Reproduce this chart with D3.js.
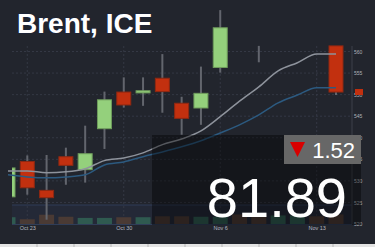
<!DOCTYPE html>
<html>
<head>
<meta charset="utf-8">
<script src="https://cdn.jsdelivr.net/npm/d3@7"></script>
<style>
  html, body { margin: 0; padding: 0; background: #22252d; }
  svg { display: block; font-family: "Liberation Sans", Arial, sans-serif; }
</style>
</head>
<body>
<div id="chart"></div>
<script>
// trading days shown on the chart
const days = ["Oct 22", "Oct 23", "Oct 24", "Oct 25", "Oct 26", "Oct 29", "Oct 30", "Oct 31",
  "Nov 1", "Nov 2", "Nov 5", "Nov 6", "Nov 7", "Nov 8", "Nov 9", "Nov 12", "Nov 13", "Nov 14"];
const tickDays = ["Oct 23", "Oct 30", "Nov 6", "Nov 13"];

// OHLC (null = no candle drawn)
const open  = [526.3, 534.5, 527.8, 535.6, 532.6, 542.1, 550.6, 550.4, 553.8, 548.0, 546.9, 556.3, null, 559.4, null, null, null, 561.3];
const high  = [533.0, 535.9, 536.0, 537.7, 542.8, 550.7, 554.0, 554.0, 559.4, 549.5, 556.5, 569.6, null, 561.3, null, null, null, 561.3];
const low   = [526.3, 526.8, 521.0, 529.1, 529.6, 537.4, 547.0, 547.4, 545.8, 540.7, 543.0, 555.1, null, 557.5, null, null, null, 549.9];
const close = [533.0, 528.4, 526.1, 533.6, 536.3, 548.8, 547.6, 550.9, 550.7, 544.5, 550.3, 565.5, null, 559.4, null, null, null, 550.6];

// moving averages
const maFast = [532.3, 532.3, 531.9, 532.1, 532.8, 534.7, 535.3, 536.5, 538.4, 539.7, 541.6, 544.9, 548.5, 551.8, 555.5, 557.4, 559.4, 559.4];
const maSlow = [531.4, 530.9, 530.7, 530.9, 531.4, 533.7, 534.4, 535.6, 536.7, 537.9, 539.3, 541.1, 543.0, 545.3, 548.1, 549.9, 551.6, 551.6];

// volume
const volume = [150, 105, 205, 160, 135, 135, 150, 150, 170, 170, 160, 160, 210, 210, 190, 190, 170, 210];
const volUp  = [true, false, false, false, true, true, false, true, false, false, true, true, false, false, true, true, false, false];

const priceTicks = [520, 525, 530, 535, 540, 545, 550, 555, 560];
const lastPrice = "81.89";
const change = "1.52";

const W = 375, H = 247;
const plot = { left: 12, right: 352, top: 46, bottom: 224 };

const svg = d3.select("#chart").append("svg")
  .attr("width", W)
  .attr("height", H);

svg.append("rect").attr("width", W).attr("height", H).attr("fill", "#22252d");

const x = d3.scaleLinear().domain([0, days.length - 1]).range([8, 336]);
const y = d3.scaleLinear().domain([520, 560]).range([224, 51.5]);
const yVol = d3.scaleLinear().domain([0, 420]).range([224, 205]);

svg.append("clipPath").attr("id", "plotClip")
  .append("rect")
  .attr("x", plot.left).attr("y", 0)
  .attr("width", plot.right - plot.left).attr("height", plot.bottom);

// volume pane tint
svg.append("rect")
  .attr("x", plot.left).attr("y", yVol(420))
  .attr("width", plot.right - plot.left).attr("height", plot.bottom - yVol(420))
  .attr("fill", "#27304a").attr("opacity", 0.35);
svg.append("line")
  .attr("x1", plot.left).attr("x2", plot.right)
  .attr("y1", yVol(420)).attr("y2", yVol(420))
  .attr("stroke", "#2f3d58").attr("stroke-width", 1);

// grid
const grid = svg.append("g");
grid.selectAll("line.h")
  .data(priceTicks.filter(d => d > 520))
  .join("line")
  .attr("x1", plot.left).attr("x2", plot.right)
  .attr("y1", d => y(d)).attr("y2", d => y(d))
  .attr("stroke", "#343844").attr("stroke-dasharray", "2,2");
grid.selectAll("line.v")
  .data(tickDays)
  .join("line")
  .attr("x1", d => x(days.indexOf(d))).attr("x2", d => x(days.indexOf(d)))
  .attr("y1", plot.top).attr("y2", plot.bottom)
  .attr("stroke", "#343844").attr("stroke-dasharray", "2,2");

const g = svg.append("g").attr("clip-path", "url(#plotClip)");
const bw = 15;

// volume bars
g.selectAll("rect.vol")
  .data(volume)
  .join("rect")
  .attr("x", (d, i) => x(i) - bw / 2)
  .attr("y", d => yVol(d))
  .attr("width", bw)
  .attr("height", d => yVol(0) - yVol(d))
  .attr("fill", (d, i) => volUp[i] ? "#2f5a50" : "#4a3a34");

const idx = d3.range(days.length).filter(i => open[i] !== null);

// wicks
g.selectAll("line.wick")
  .data(idx)
  .join("line")
  .attr("x1", i => x(i)).attr("x2", i => x(i))
  .attr("y1", i => y(high[i])).attr("y2", i => y(low[i]))
  .attr("stroke", "#62656d").attr("stroke-width", 2);

// bodies
g.selectAll("rect.body")
  .data(idx.filter(i => open[i] !== close[i]))
  .join("rect")
  .attr("x", i => x(i) - bw / 2 + 0.5)
  .attr("y", i => y(Math.max(open[i], close[i])))
  .attr("width", bw - 1)
  .attr("height", i => Math.max(1.5, Math.abs(y(open[i]) - y(close[i]))))
  .attr("fill", i => close[i] > open[i] ? "#94d07c" : "#c2300f")
  .attr("stroke", i => close[i] > open[i] ? "#6f9c5c" : "#8e2812")
  .attr("stroke-width", 1);

// moving averages
const line = d3.line().x((d, i) => x(i)).y(d => y(d)).curve(d3.curveMonotoneX);
svg.append("path").datum(maSlow)
  .attr("d", line).attr("fill", "none")
  .attr("stroke", "#2c5a80").attr("stroke-width", 1.5);
svg.append("path").datum(maFast)
  .attr("d", line).attr("fill", "none")
  .attr("stroke", "#8e939c").attr("stroke-width", 1.5);

// right axis
svg.append("line")
  .attr("x1", plot.right).attr("x2", plot.right)
  .attr("y1", plot.top).attr("y2", plot.bottom)
  .attr("stroke", "#3c404a");
const yAxis = svg.append("g")
  .attr("transform", `translate(${plot.right},0)`)
  .call(d3.axisRight(y).tickValues(priceTicks).tickSize(0).tickPadding(2));
yAxis.select(".domain").remove();
yAxis.selectAll("text").attr("fill", "#aeb2ba").style("font-size", "5px");

// last price tag
svg.append("rect")
  .attr("x", plot.right + 3).attr("y", y(close[close.length - 1]) - 3)
  .attr("width", 8).attr("height", 6)
  .attr("fill", "#c2300f");

// bottom axis
const xAxis = svg.append("g")
  .attr("transform", `translate(0,${plot.bottom})`)
  .call(d3.axisBottom(x)
    .tickValues(tickDays.map(d => days.indexOf(d)))
    .tickFormat(i => days[i])
    .tickSize(0).tickPadding(2));
xAxis.select(".domain")
  .attr("d", `M${plot.left},0.5H${plot.right}`)
  .attr("stroke", "#2f3d58");
xAxis.selectAll("text").attr("fill", "#b4b8c0").style("font-size", "5.5px");

// dark overlay box
svg.append("rect")
  .attr("x", 152).attr("y", 135)
  .attr("width", 209).attr("height", 90)
  .attr("fill", "#000").attr("opacity", 0.4);

// change badge
svg.append("rect")
  .attr("x", 284).attr("y", 135)
  .attr("width", 77).attr("height", 29)
  .attr("fill", "#676767");
svg.append("path")
  .attr("d", "M290,142L305,142L297.5,157Z")
  .attr("fill", "#d80000");
svg.append("text")
  .attr("x", 355).attr("y", 158)
  .attr("text-anchor", "end")
  .attr("fill", "#fff")
  .style("font-size", "22px")
  .text(change);

// big price
svg.append("text")
  .attr("x", 347).attr("y", 216.5)
  .attr("text-anchor", "end")
  .attr("fill", "#fff")
  .style("font-size", "56px")
  .text(lastPrice);

// title
svg.append("text")
  .attr("x", 17).attr("y", 33.3)
  .attr("fill", "#fff")
  .style("font-size", "28px")
  .style("font-weight", "bold")
  .style("paint-order", "stroke")
  .attr("stroke", "#1a2440").attr("stroke-width", 1)
  .text("Brent, ICE");

// bottom strip
svg.append("rect")
  .attr("x", 0).attr("y", 244)
  .attr("width", W).attr("height", 3)
  .attr("fill", "#e4e4e4");
svg.selectAll("line.sep")
  .data(d3.range(1, 10))
  .join("line")
  .attr("x1", d => d * 37).attr("x2", d => d * 37)
  .attr("y1", 244).attr("y2", 247)
  .attr("stroke", "#b8b8b8");
</script>
</body>
</html>
